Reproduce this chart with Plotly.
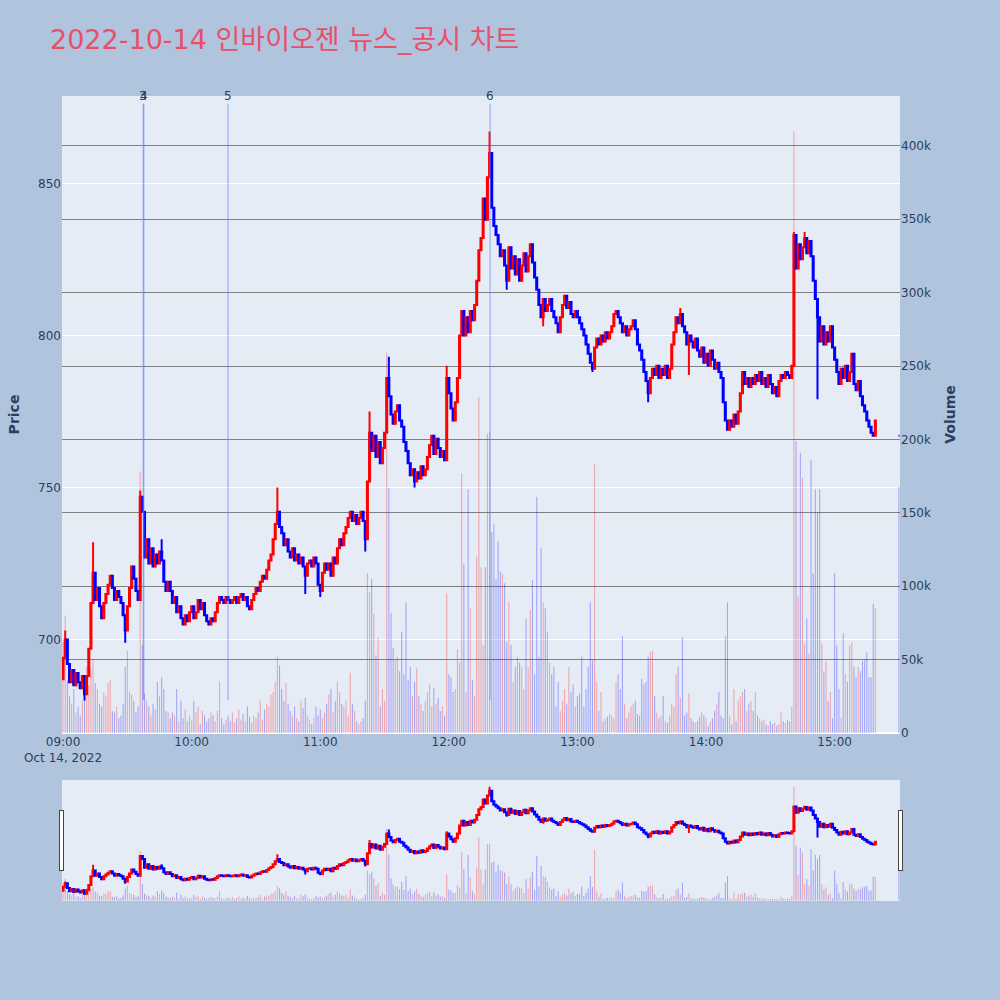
import pandas as pd
import plotly.graph_objects as go
from plotly.subplots import make_subplots

# 2022-10-14 1-minute bars, 09:00 ~ 15:19, plus closing single trade at 15:30
trade_date = "2022-10-14"
first_open = 687

close_prices = [
    694, 700, 692, 686, 690, 685, 689, 686, 684, 688,
    682, 688, 697, 712, 722, 713, 717, 711, 707, 712,
    715, 718, 721, 717, 713, 716, 714, 712, 708, 703,
    711, 717, 724, 720, 716, 713, 747, 742, 727, 733,
    725, 730, 724, 728, 725, 729, 726, 719, 716, 719,
    716, 712, 714, 709, 711, 707, 705, 708, 706, 709,
    711, 707, 709, 713, 710, 712, 708, 706, 705, 707,
    706, 709, 712, 714, 713, 712, 714, 713, 712, 713,
    714, 712, 714, 715, 713, 714, 711, 710, 713, 715,
    717, 716, 719, 721, 720, 723, 726, 728, 733, 738,
    742, 737, 735, 731, 733, 729, 727, 730, 726, 728,
    725, 727, 724, 721, 725, 726, 724, 727, 725, 718,
    716, 722, 725, 723, 725, 721, 727, 725, 730, 733,
    731, 735, 737, 740, 742, 739, 741, 738, 740, 742,
    739, 733, 752, 768, 762, 767, 760, 765, 758, 763,
    768, 786, 780, 774, 771, 775, 777, 772, 770, 765,
    762, 758, 754, 756, 752, 755, 753, 757, 754, 756,
    760, 764, 767, 761, 766, 763, 760, 762, 759, 786,
    781, 776, 772, 778, 786, 800, 808, 800, 806, 801,
    808, 805, 810, 818, 828, 832, 845, 838, 852, 860,
    842, 836, 833, 830, 826, 828, 823, 818, 829, 822,
    826, 820, 825, 818, 823, 827, 821, 826, 830, 824,
    819, 815, 810, 806, 812, 808, 810, 812, 808, 806,
    804, 801, 806, 810, 813, 809, 811, 807, 806, 808,
    806, 804, 802, 800, 797, 794, 791, 789, 796, 799,
    797, 800, 798, 801, 799, 801, 803, 807, 808, 806,
    804, 801, 803, 800, 802, 803, 805, 802, 797, 795,
    792, 788, 785, 781, 786, 789, 787, 790, 786, 789,
    787, 790, 786, 789, 797, 801, 806, 804, 807, 803,
    801, 797, 800, 798, 796, 799, 795, 793, 796, 791,
    794, 790, 795, 792, 789, 791, 788, 786, 778, 772,
    769, 772, 770, 774, 771, 775, 781, 788, 784, 786,
    783, 786, 784, 787, 785, 788, 784, 786, 783, 787,
    784, 781, 783, 780, 785, 787, 786, 788, 787, 786,
    790, 833, 822, 830, 825, 829, 832, 827, 831, 826,
    818, 812, 806, 798, 803, 797, 801, 798, 803, 796,
    792, 788, 784, 789, 786, 790, 785, 788, 794, 784,
    782, 785, 780, 777, 775, 772, 770, 768, 767, 772,
]

# volume in thousands of shares
volume_k = [
    62, 80, 36, 25, 20, 30, 14, 18, 12, 22,
    38, 45, 32, 44, 50, 34, 30, 20, 18, 28,
    25, 34, 36, 15, 14, 18, 10, 12, 20, 45,
    56, 28, 26, 22, 14, 18, 178, 60, 27, 22,
    18, 12, 20, 16, 35, 25, 38, 30, 15, 14,
    10, 14, 12, 30, 8, 22, 10, 16, 8, 12,
    9, 22, 14, 18, 6, 15, 12, 8, 10, 14,
    12, 8, 15, 35, 10, 6, 9, 12, 8, 14,
    7, 10, 16, 9, 13, 8, 18, 11, 7, 12,
    10, 14, 22, 9, 16, 20, 18, 26, 28, 35,
    52, 46, 30, 22, 34, 20, 15, 12, 18, 10,
    8, 22, 17, 24, 12, 9, 6, 10, 18, 12,
    16, 10, 14, 20, 26, 30, 14, 22, 35, 28,
    20, 18, 22, 12, 41, 20, 15, 8, 6, 8,
    10, 22, 109, 96, 105, 81, 53, 65, 18, 30,
    22, 259, 167, 82, 58, 50, 52, 42, 69, 40,
    89, 36, 45, 25, 35, 44, 25, 20, 15, 22,
    28, 33, 18, 31, 20, 24, 15, 18, 12, 95,
    40, 38, 28, 30, 57, 48, 177, 115, 28, 166,
    85, 36, 25, 120, 229, 113, 60, 113, 204, 205,
    137, 142, 105, 131, 110, 108, 102, 62, 89, 60,
    35, 45, 52, 48, 45, 30, 78, 45, 84, 104,
    40, 161, 52, 126, 89, 85, 69, 48, 40, 45,
    18, 35, 15, 22, 30, 20, 45, 28, 33, 18,
    25, 27, 52, 18, 30, 45, 89, 50, 183, 35,
    15, 28, 8, 10, 11, 13, 12, 10, 35, 40,
    30, 66, 20, 10, 14, 18, 20, 22, 13, 12,
    37, 33, 35, 52, 55, 56, 25, 14, 10, 12,
    25, 8, 7, 12, 20, 18, 40, 45, 24, 65,
    12, 14, 27, 10, 8, 7, 8, 11, 14, 12,
    10, 5, 8, 10, 15, 20, 28, 12, 10, 66,
    89, 12, 6, 30, 8, 22, 25, 28, 30, 15,
    20, 22, 15, 28, 12, 10, 8, 9, 6, 5,
    8, 6, 7, 5, 6, 14, 8, 7, 9, 8,
    18, 410, 199, 93, 191, 174, 61, 78, 54, 186,
    109, 166, 150, 166, 61, 42, 49, 22, 28, 10,
    109, 60, 30, 10, 68, 40, 35, 60, 62, 45,
    38, 45, 42, 49, 50, 55, 38, 38, 88, 85,
]

# wicks that stick out beyond the candle body (minute index -> price)
wick_high = {1: 703, 14: 732, 36: 749, 46: 733, 100: 750, 143: 775, 152: 793,
             179: 790, 199: 867, 288: 809, 341: 834, 346: 834}
wick_low = {10: 680, 29: 699, 113: 715, 120: 714, 141: 729, 164: 750, 207: 815,
            224: 803, 247: 788, 273: 778, 292: 787, 352: 779}

closing_time = "15:30"
closing_price = 767
closing_volume_k = 168

news_labels = ["3", "4", "5", "6"]
news_times = ["09:37:25", "09:37:40", "10:17:00", "12:19:15"]

# build OHLC frame
times = list(pd.date_range(f"{trade_date} 09:00", periods=len(close_prices), freq="min"))
times.append(pd.Timestamp(f"{trade_date} {closing_time}"))
closes = close_prices + [closing_price]
opens = [first_open] + close_prices[:-1] + [closing_price]
highs, lows = [], []
for i, (o, c) in enumerate(zip(opens, closes)):
    highs.append(wick_high.get(i, max(o, c)))
    lows.append(wick_low.get(i, min(o, c)))
volumes = [v * 1000 for v in volume_k + [closing_volume_k]]

df = pd.DataFrame({"time": times, "open": opens, "high": highs,
                   "low": lows, "close": closes, "volume": volumes})
vol_colors = ["rgba(255,0,0,0.3)" if c > o else "rgba(0,0,255,0.3)"
              for o, c in zip(df["open"], df["close"])]

fig = make_subplots(specs=[[{"secondary_y": True}]])

fig.add_trace(go.Candlestick(
    x=df["time"], open=df["open"], high=df["high"], low=df["low"], close=df["close"],
    increasing=dict(line=dict(color="red", width=2), fillcolor="red"),
    decreasing=dict(line=dict(color="blue", width=2), fillcolor="blue"),
    name="Price", showlegend=False,
), secondary_y=False)

fig.add_trace(go.Bar(
    x=df["time"], y=df["volume"], marker=dict(color=vol_colors, line=dict(width=0)),
    name="Volume", showlegend=False,
), secondary_y=True)

# news markers
for label, t in zip(news_labels, news_times):
    ts = f"{trade_date} {t}"
    fig.add_shape(type="line", xref="x", yref="paper", x0=ts, x1=ts, y0=0.052, y1=0.988,
                  line=dict(color="rgba(90,130,240,0.45)", width=1.5))
    fig.add_annotation(x=ts, y=1.0, xref="x", yref="paper", text=label, showarrow=False,
                       yanchor="middle", font=dict(size=12, color="#2a3f5f"))

fig.update_layout(
    title=dict(text=f"{trade_date} 인바이오젠 뉴스_공시 차트", x=0.05, y=0.96,
               xanchor="left", yanchor="middle",
               font=dict(size=27, color="#E8506A", family="DejaVu Sans, Noto Sans CJK KR")),
    width=1000, height=1000,
    paper_bgcolor="lightsteelblue",
    font=dict(family="DejaVu Sans, Noto Sans CJK KR"),
    margin=dict(l=62, r=100, t=96, b=100),
    showlegend=False,
    bargap=0.5,
)
fig.update_xaxes(domain=[0, 1], rangeslider=dict(visible=True))
fig.update_yaxes(title_text="<b>Price</b>", range=[669.3, 878.7], secondary_y=False)
fig.update_yaxes(title_text="<b>Volume</b>", range=[0, 434000], gridcolor="grey",
                 secondary_y=True)

fig.write_html("out.html", config={"displayModeBar": False},
               post_script="document.body.style.margin='0px';")
